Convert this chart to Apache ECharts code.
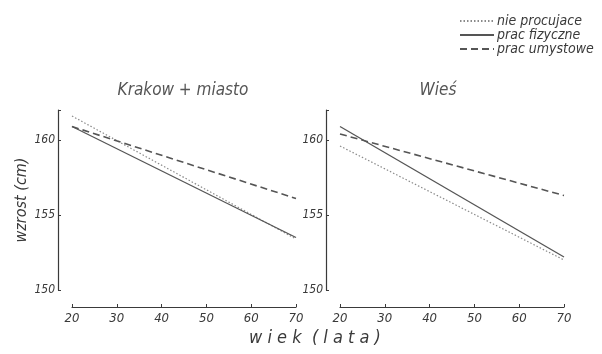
<!DOCTYPE html>
<html>
<head>
<meta charset="utf-8">
<script src="https://cdn.jsdelivr.net/npm/echarts@6/dist/echarts.min.js"></script>
<style>
  html, body { margin: 0; padding: 0; background: #fff; }
  #chart { width: 602px; height: 354px; }
</style>
</head>
<body>
<div id="chart"></div>
<script>
// Age range (years) and fitted height trends (cm) at both ends
const ages = [20, 70];
const panelTitles = ['Krakow + miasto', 'Wieś'];
const seriesNames = ['nie procujace', 'prac fizyczne', 'prac umystowe'];

// Kraków + miasto
const krakowNiePracujace = [161.6, 153.4];
const krakowFizyczne = [160.9, 153.5];
const krakowUmyslowe = [160.9, 156.1];

// Wieś
const wiesNiePracujace = [159.6, 152.0];
const wiesFizyczne = [160.9, 152.2];
const wiesUmyslowe = [160.4, 156.3];

const xTicks = [20, 30, 40, 50, 60, 70];
const yTicks = [150, 155, 160];

const FONT = '"Liberation Sans Narrow", "DejaVu Sans Condensed", "DejaVu Sans", sans-serif';
const INK = '#3a3a3a';

const lineStyles = [
  { type: [1.5, 2], width: 1.2, color: '#8a8a8a' },
  { type: 'solid', width: 1.3, color: '#555' },
  { type: [7, 4], width: 1.6, color: '#555' }
];

function pairs(vals) { return ages.map((a, i) => [a, vals[i]]); }

const panels = [
  [krakowNiePracujace, krakowFizyczne, krakowUmyslowe],
  [wiesNiePracujace, wiesFizyczne, wiesUmyslowe]
];

const grids = [
  { left: 72, top: 110, width: 224, height: 180 },
  { left: 340, top: 110, width: 224, height: 180 }
];

const xAxes = grids.map((g, i) => ({
  type: 'value', gridIndex: i, min: 20, max: 70, interval: 10,
  offset: 17,
  axisLine: { show: true, lineStyle: { color: INK, width: 1.2 } },
  axisTick: { show: true, inside: true, length: 3, lineStyle: { color: INK } },
  axisLabel: {
    color: INK, fontFamily: FONT, fontStyle: 'italic', fontSize: 13, margin: 5,
    formatter: v => (xTicks.indexOf(v) >= 0 ? String(v) : '')
  },
  splitLine: { show: false }
}));

const yAxes = grids.map((g, i) => ({
  type: 'value', gridIndex: i, min: 150, max: 162, interval: 5,
  offset: 14,
  axisLine: { show: true, lineStyle: { color: INK, width: 1.2 } },
  axisTick: { show: true, inside: true, length: 3, lineStyle: { color: INK } },
  axisLabel: {
    color: INK, fontFamily: FONT, fontStyle: 'italic', fontSize: 12, margin: 3,
    formatter: v => (yTicks.indexOf(v) >= 0 ? String(v) : '')
  },
  splitLine: { show: false }
}));

const series = [];
panels.forEach((sets, p) => {
  sets.forEach((vals, k) => {
    series.push({
      type: 'line', name: seriesNames[k], xAxisIndex: p, yAxisIndex: p,
      data: pairs(vals), symbol: 'none', silent: true,
      lineStyle: lineStyles[k], color: lineStyles[k].color
    });
  });
});

const titleStyle = { color: '#555', fontFamily: FONT, fontStyle: 'italic', fontWeight: 'normal', fontSize: 17 };

const chart = echarts.init(document.getElementById('chart'), null, { renderer: 'canvas' });
chart.setOption({
  backgroundColor: '#fff',
  animation: false,
  grid: grids,
  xAxis: xAxes,
  yAxis: yAxes,
  series: series,
  legend: {
    data: seriesNames,
    orient: 'vertical',
    left: 454, top: 9,
    itemWidth: 34, itemHeight: 8, itemGap: 0,
    itemStyle: { opacity: 0 },
    textStyle: { color: INK, fontFamily: FONT, fontStyle: 'italic', fontSize: 14, lineHeight: 14, padding: [0, 0, 0, -2] },
    selectedMode: false
  },
  title: [
    { text: panelTitles[0], left: 178, top: 77, textAlign: 'center', textStyle: titleStyle },
    { text: panelTitles[1], left: 433, top: 77, textAlign: 'center', textStyle: titleStyle }
  ],
  graphic: [
    { type: 'text', x: 315, y: 338,
      style: { text: 'w i e k  ( l a t a )', fill: INK, font: 'italic 18px ' + FONT, align: 'center', verticalAlign: 'middle' } },
    { type: 'text', x: 22, y: 200, rotation: Math.PI / 2,
      style: { text: 'wzrost (cm)', fill: INK, font: 'italic 16px ' + FONT, align: 'center', verticalAlign: 'middle' } }
  ]
});
</script>
</body>
</html>
